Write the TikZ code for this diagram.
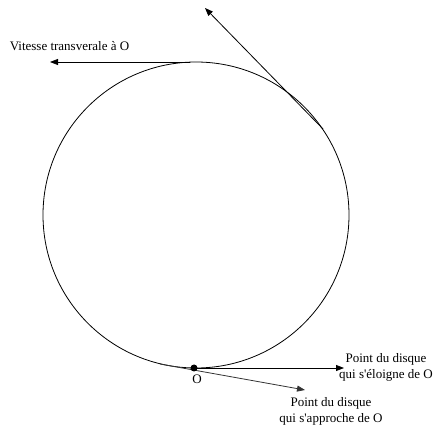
\documentclass[tikz,border=0pt]{standalone}
\usepackage{fontspec}
\setmainfont{Liberation Serif}
\usetikzlibrary{arrows.meta}
\begin{document}
\begin{tikzpicture}[x=1pt,y=-1pt,
  vec/.style={line width=0.8pt,-{Triangle[length=8pt,width=6pt]}},
  lbl/.style={font=\fontsize{13}{16}\selectfont,inner sep=0pt,align=center}]
\useasboundingbox (0,0) rectangle (448,441);
\coordinate (C) at (196,215);
\draw[line width=0.8pt] (C) circle[radius=153];
% top transverse velocity
\coordinate (T0) at (190,62);
\coordinate (T1) at (50,62);
\draw[vec] (T0) -- (T1);
\node[lbl] (vt) at (69.5,46) {Vitesse transverale à O};
% tangent line upper right
\coordinate (R0) at (323,129);
\coordinate (R1) at (205,8);
\draw[vec] (R0) -- (R1);
% bottom point
\coordinate (P) at (194,368);
\coordinate (A0) at (160,364);
\coordinate (E1) at (344,368);
\coordinate (A1) at (305,390);
\draw[vec] (P) -- (E1);
\draw[vec,black!80] (A0) -- (A1);
\fill (P) circle[radius=3.5];
\node[lbl] (O) at (197,379) {O};
\node[lbl] (s1) at (386,367) {Point du disque\\qui s\textquotesingle éloigne de O};
\node[lbl] (s2) at (331,411) {Point du disque\\qui s\textquotesingle approche de O};
\end{tikzpicture}
\end{document}
